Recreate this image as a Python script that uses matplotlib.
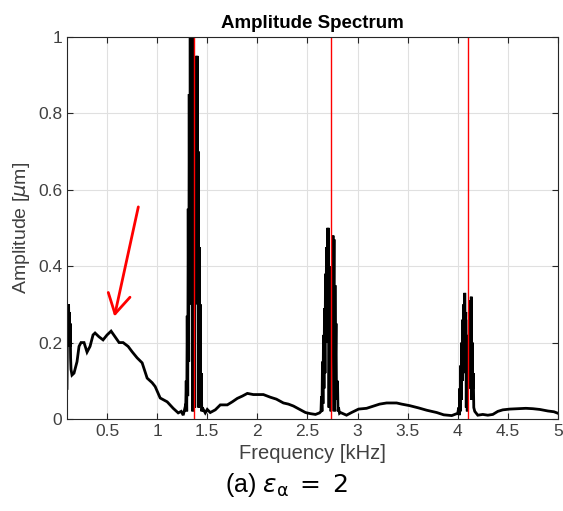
import numpy as np
import matplotlib
matplotlib.use("Agg")
import matplotlib.pyplot as plt

plt.rcParams['font.family'] = ['Liberation Sans', 'DejaVu Sans']

# spectrum, frequency in kHz, amplitude in um
freq_low = [0.100, 0.104, 0.108, 0.112, 0.116, 0.120, 0.124, 0.128, 0.132, 0.136,
            0.14, 0.15, 0.17, 0.20, 0.22, 0.24, 0.27, 0.30, 0.33, 0.36, 0.38, 0.42,
            0.46, 0.50, 0.54, 0.58, 0.62, 0.66, 0.71, 0.75, 0.80, 0.85, 0.90, 0.95,
            0.98, 1.03, 1.10, 1.16, 1.21, 1.24, 1.26, 1.28]
amp_low = [0.08, 0.22, 0.29, 0.20, 0.30, 0.21, 0.28, 0.19, 0.25, 0.16,
           0.13, 0.115, 0.12, 0.15, 0.19, 0.20, 0.20, 0.175, 0.19, 0.22, 0.225, 0.215,
           0.207, 0.22, 0.23, 0.215, 0.20, 0.20, 0.19, 0.176, 0.16, 0.147, 0.107, 0.095,
           0.085, 0.055, 0.045, 0.028, 0.016, 0.02, 0.01, 0.032]

freq_p1 = [1.285, 1.29, 1.295, 1.30, 1.305, 1.31, 1.315, 1.32, 1.325, 1.33, 1.335,
           1.34, 1.345, 1.35, 1.355, 1.36, 1.365, 1.37, 1.375, 1.38, 1.385, 1.39,
           1.395, 1.40, 1.405, 1.41, 1.415, 1.42, 1.425, 1.43, 1.435, 1.44, 1.445, 1.45]
amp_p1 = [0.03, 0.10, 0.02, 0.27, 0.06, 0.55, 0.15, 0.85, 0.30, 1.05, 0.46,
          1.05, 0.60, 1.05, 0.02, 0.90, 0.45, 0.70, 0.03, 0.80, 0.40, 0.95,
          0.46, 0.95, 0.30, 0.70, 0.03, 0.45, 0.10, 0.30, 0.05, 0.12, 0.02, 0.03]

freq_mid1 = [1.48, 1.50, 1.53, 1.58, 1.63, 1.70, 1.75, 1.80, 1.85, 1.90, 1.96, 2.06,
             2.13, 2.19, 2.26, 2.31, 2.36, 2.43, 2.48, 2.53, 2.58, 2.62]
amp_mid1 = [0.016, 0.025, 0.017, 0.024, 0.037, 0.037, 0.045, 0.054, 0.06, 0.067, 0.064,
            0.064, 0.057, 0.052, 0.042, 0.039, 0.034, 0.024, 0.017, 0.014, 0.012, 0.016]

freq_p2 = [2.635, 2.64, 2.645, 2.65, 2.655, 2.66, 2.665, 2.67, 2.675, 2.68, 2.685,
           2.69, 2.695, 2.70, 2.705, 2.71, 2.715, 2.72, 2.725, 2.73, 2.735, 2.745,
           2.75, 2.755, 2.76, 2.765, 2.77, 2.775, 2.78, 2.785, 2.79, 2.80, 2.805,
           2.81, 2.82]
amp_p2 = [0.02, 0.06, 0.02, 0.15, 0.04, 0.22, 0.08, 0.29, 0.12, 0.38, 0.20,
          0.45, 0.22, 0.50, 0.26, 0.50, 0.03, 0.40, 0.18, 0.30, 0.02, 0.35,
          0.22, 0.48, 0.25, 0.47, 0.02, 0.35, 0.15, 0.25, 0.05, 0.10, 0.02,
          0.03, 0.015]

freq_mid2 = [2.83, 2.89, 2.94, 3.01, 3.09, 3.16, 3.22, 3.29, 3.39, 3.44, 3.52, 3.61,
             3.69, 3.79, 3.86, 3.94, 4.00]
amp_mid2 = [0.017, 0.01, 0.017, 0.026, 0.028, 0.034, 0.039, 0.042, 0.042, 0.039, 0.035,
            0.029, 0.023, 0.017, 0.011, 0.009, 0.015]

freq_p3 = [4.01, 4.015, 4.02, 4.025, 4.03, 4.035, 4.04, 4.045, 4.05, 4.055, 4.06,
           4.065, 4.07, 4.075, 4.08, 4.085, 4.09, 4.095, 4.105, 4.11, 4.115, 4.12,
           4.125, 4.13, 4.135, 4.14, 4.145, 4.15, 4.155, 4.16, 4.17]
amp_p3 = [0.03, 0.01, 0.08, 0.02, 0.14, 0.05, 0.20, 0.10, 0.26, 0.12, 0.30,
          0.15, 0.33, 0.20, 0.28, 0.03, 0.22, 0.02, 0.18, 0.08, 0.26, 0.12,
          0.31, 0.15, 0.32, 0.05, 0.20, 0.08, 0.12, 0.03, 0.02]

freq_high = [4.20, 4.25, 4.30, 4.35, 4.40, 4.45, 4.52, 4.60, 4.68, 4.75, 4.82, 4.90,
             4.96, 5.00]
amp_high = [0.01, 0.012, 0.01, 0.012, 0.02, 0.024, 0.026, 0.027, 0.028, 0.027, 0.025,
            0.021, 0.019, 0.015]

harmonics = [1.367, 2.734, 4.101]

freq = freq_low + freq_p1 + freq_mid1 + freq_p2 + freq_mid2 + freq_p3 + freq_high
amp = amp_low + amp_p1 + amp_mid1 + amp_p2 + amp_mid2 + amp_p3 + amp_high

fig = plt.figure(figsize=(5.63, 5.11), dpi=100)
ax = fig.add_axes([0.119, 0.180, 0.872, 0.748])

ax.plot(freq, amp, color='black', lw=2.0, solid_joinstyle='miter')
for h in harmonics:
    ax.axvline(h, color='red', lw=1)

ax.annotate('', xy=(0.573, 0.268), xytext=(0.812, 0.555),
            arrowprops=dict(arrowstyle='->,head_length=0.7,head_width=0.4',
                            color='red', lw=2, mutation_scale=20, shrinkA=0, shrinkB=0))

ax.set_xlim(0.1, 5)
ax.set_ylim(0, 1)
ax.set_xticks([0.5, 1, 1.5, 2, 2.5, 3, 3.5, 4, 4.5, 5])
ax.set_xticklabels(['0.5', '1', '1.5', '2', '2.5', '3', '3.5', '4', '4.5', '5'])
ax.set_yticks([0, 0.2, 0.4, 0.6, 0.8, 1])
ax.set_yticklabels(['0', '0.2', '0.4', '0.6', '0.8', '1'])
ax.grid(True, color='#e0e0e0', lw=0.8)
ax.set_axisbelow(True)
ax.tick_params(direction='in', top=True, right=True, labelsize=12.5,
               colors='#262626', labelcolor='#404040', length=4)
for s in ax.spines.values():
    s.set_color('#262626')
    s.set_linewidth(0.8)

ax.set_title('Amplitude Spectrum', fontsize=13.5, fontweight='bold', pad=6)
ax.set_xlabel('Frequency [kHz]', fontsize=14.5, color='#404040', labelpad=4)
ax.set_ylabel(r'Amplitude [$\mu$m]', fontsize=14, color='#404040', labelpad=4)

fig.text(0.508, 0.037, r'(a) $\varepsilon_{\mathrm{\alpha}}\;=\;2$', fontsize=18, ha='center')

fig.savefig('out.png', dpi=100)
